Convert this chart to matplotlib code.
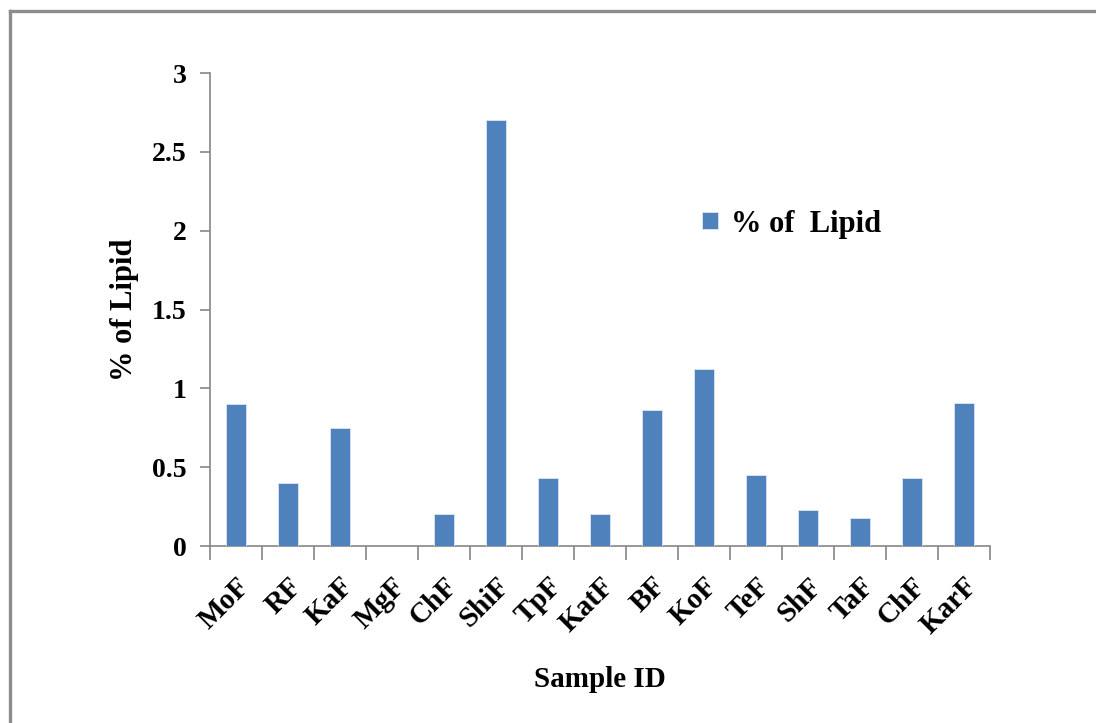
import matplotlib.pyplot as plt
from matplotlib.lines import Line2D

# lipid content per sample
samples = ['MoF', 'RF', 'KaF', 'MgF', 'ChF', 'ShiF', 'TpF', 'KatF',
           'BF', 'KoF', 'TeF', 'ShF', 'TaF', 'ChF', 'KarF']
lipid = [0.90, 0.40, 0.75, 0.0, 0.20, 2.70, 0.43, 0.205,
         0.86, 1.12, 0.45, 0.23, 0.18, 0.43, 0.91]
yticks = [0, 0.5, 1, 1.5, 2, 2.5, 3]
ytick_labels = ['0', '0.5', '1', '1.5', '2', '2.5', '3']

plt.rcParams['font.family'] = ['Liberation Serif', 'DejaVu Serif']
plt.rcParams['font.weight'] = 'bold'

fig = plt.figure(figsize=(10.96, 7.23), dpi=100)
ax = fig.add_axes([0.1916, 0.2448, 0.7117, 0.6542])

grey = '#868686'
pos = list(range(len(samples)))
ax.bar(pos, lipid, width=0.4, color='#4F81BD', edgecolor='#dce6f2',
       linewidth=0.6, label='% of  Lipid', zorder=3)

ax.set_xlim(-0.5, len(samples) - 0.5)
ax.set_ylim(0, 3)
ax.set_yticks(yticks)
ax.set_yticklabels(ytick_labels, fontsize=20, fontweight='bold')

# category labels sit under the bars, ticks go between categories
ax.set_xticks(pos)
ax.set_xticklabels(samples, fontsize=21, fontweight='bold', rotation=45,
                   ha='right', rotation_mode='anchor')
ax.tick_params(axis='x', length=0, pad=19)
ax.set_xticks([p - 0.5 for p in pos] + [len(samples) - 0.5], minor=True)
ax.tick_params(axis='x', which='minor', length=10, color=grey, width=1.2)
ax.tick_params(axis='y', length=7, color=grey, width=1.2, pad=10)

for side in ['top', 'right']:
    ax.spines[side].set_visible(False)
for side in ['left', 'bottom']:
    ax.spines[side].set_color(grey)
    ax.spines[side].set_linewidth(1.2)

ax.set_ylabel('% of Lipid', fontsize=22, fontweight='bold', labelpad=9)
ax.set_xlabel('Sample ID', fontsize=21, fontweight='bold', labelpad=19)

ax.legend(loc='center left', bbox_to_anchor=(0.627, 0.69),
          bbox_transform=fig.transFigure, frameon=False, fontsize=22,
          handlelength=0.5, handleheight=0.5, handletextpad=0.45,
          borderpad=0)

# frame along the top and left edges
fig.add_artist(Line2D([10 / 1096, 10 / 1096], [0, 1 - 11 / 723],
                      color='#8c8c8c', linewidth=2.4))
fig.add_artist(Line2D([10 / 1096, 1], [1 - 11 / 723, 1 - 11 / 723],
                      color='#8c8c8c', linewidth=2.4))

plt.savefig('out.png', dpi=100)
